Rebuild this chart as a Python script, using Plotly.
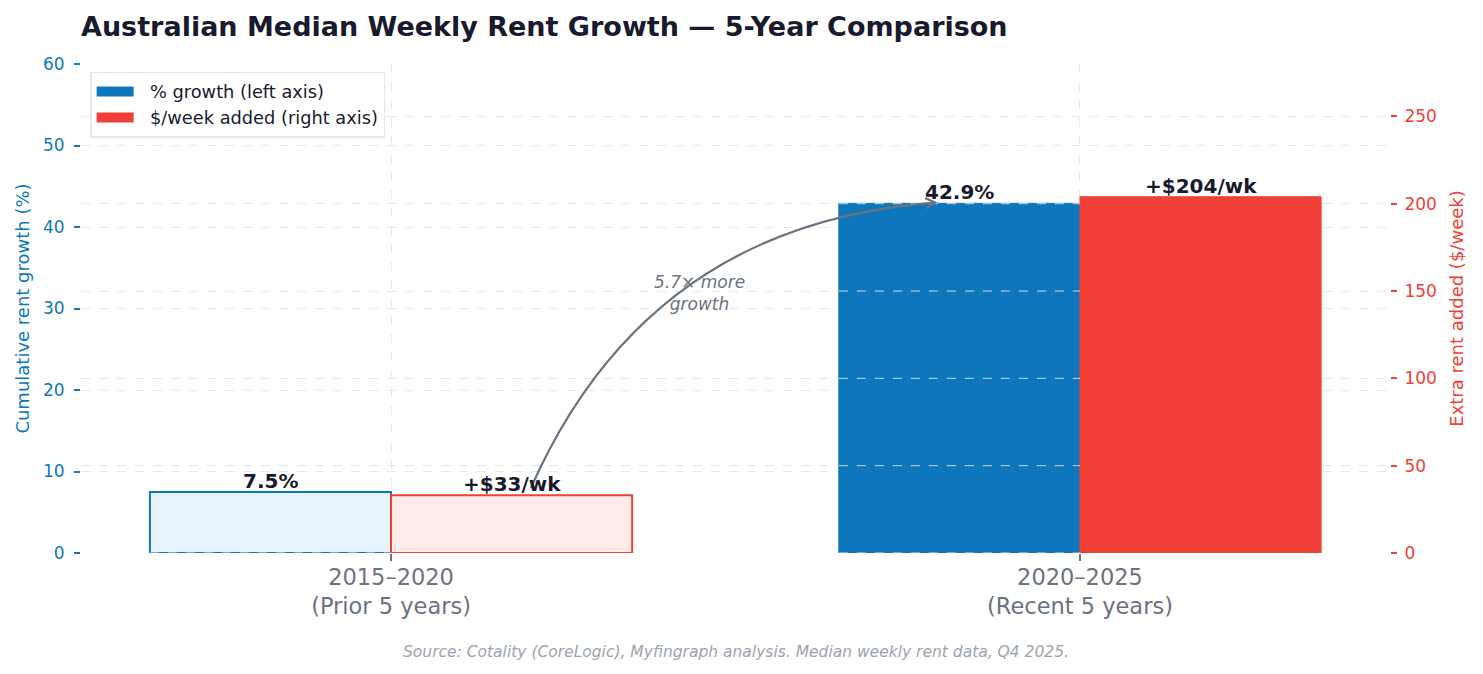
import math
import plotly.graph_objects as go

# ---------------- data ----------------
periods = ["2015–2020<br>(Prior 5 years)", "2020–2025<br>(Recent 5 years)"]
pct_growth = [7.5, 42.9]          # % (left axis)
dollar_added = [33, 204]          # $/week (right axis)
pct_labels = ["7.5%", "42.9%"]
dollar_labels = ["+$33/wk", "+$204/wk"]
left_ticks = [0, 10, 20, 30, 40, 50, 60]
right_ticks = [0, 50, 100, 150, 200, 250]
ratio_text = "5.7× more<br>growth"
series_names = ["% growth (left axis)", "$/week added (right axis)"]

# ---------------- style ----------------
FONT = "DejaVu Sans"
BLUE = "#0e77bb"
RED = "#f04037"
BLUE_LIGHT = "#e8f2fb"
RED_LIGHT = "#feebe9"
DARK = "#1a1a2e"
GREY = "#6b7280"
GRID = "#e5e7eb"

PAGE_OFF = 8                      # default body margin of the page
W_FIG, H_FIG = 1483 - 2 * PAGE_OFF, 674 - 2 * PAGE_OFF
M_L, M_R, M_T, M_B = 73, 85, 56, 113
X_RANGE = [-0.45, 1.45]
Y_RANGE = [0, 60]
Y2_RANGE = [0, 280]
BAR_W = 0.35

xs = list(range(len(periods)))

fig = go.Figure()

fig.add_trace(go.Bar(
    x=xs, y=pct_growth, width=BAR_W, offset=-BAR_W,
    marker=dict(color=[BLUE_LIGHT, BLUE], line=dict(color=[BLUE, BLUE], width=[2, 1])),
    showlegend=False, yaxis="y", hoverinfo="skip"))
fig.add_trace(go.Bar(
    x=xs, y=dollar_added, width=BAR_W, offset=0,
    marker=dict(color=[RED_LIGHT, RED], line=dict(color=[RED, RED], width=[2, 1])),
    showlegend=False, yaxis="y2", hoverinfo="skip"))

# legend-only entries (wide rectangular swatches)
NB = "\u00a0\u00a0"
fig.add_trace(go.Scatter(x=[None], y=[None], mode="lines", name=NB + series_names[0],
                         line=dict(color=BLUE, width=13), yaxis="y"))
fig.add_trace(go.Scatter(x=[None], y=[None], mode="lines", name=NB + series_names[1],
                         line=dict(color=RED, width=13), yaxis="y2"))

shapes = []
# right-axis gridlines drawn over the blue bars
scale_l2r = (Y2_RANGE[1] - Y2_RANGE[0]) / (Y_RANGE[1] - Y_RANGE[0])
for xi, v in zip(xs, pct_growth):
    v2 = v * scale_l2r
    for g in right_ticks:
        if g < v2:
            shapes.append(dict(type="line", xref="x", yref="y2",
                               x0=xi - BAR_W, x1=xi, y0=g, y1=g, layer="above",
                               line=dict(color="rgba(235,238,242,0.85)", width=1, dash="dash")))

# curved arrow (arc3, rad=-0.3) from first $ bar to second % bar
plot_w = W_FIG - M_L - M_R
plot_h = H_FIG - M_T - M_B
sx = plot_w / (X_RANGE[1] - X_RANGE[0])
sy = plot_h / (Y_RANGE[1] - Y_RANGE[0])

def to_px(x, y):
    return ((x - X_RANGE[0]) * sx, (y - Y_RANGE[0]) * sy)

def from_px(u, v):
    return (u / sx + X_RANGE[0], v / sy + Y_RANGE[0])

start = (xs[0] + BAR_W * 0.58, dollar_added[0] / scale_l2r + 0.9)
end = (xs[1] - BAR_W * 0.6, pct_growth[1] + 0.1)
su, sv = to_px(*start)
eu, ev = to_px(*end)
mu, mv = (su + eu) / 2, (sv + ev) / 2
du, dv = eu - su, ev - sv
rad = -0.3
cu, cv = mu + rad * dv, mv - rad * du
# arrowhead chevron
tu, tv = eu - cu, ev - cv
tl = math.hypot(tu, tv)
tu, tv = tu / tl, tv / tl
L = 11
ang = math.radians(28)
wings = []
for s in (1, -1):
    ca, sa = math.cos(s * ang), math.sin(s * ang)
    ru = tu * ca - tv * sa
    rv = tu * sa + tv * ca
    wings.append(from_px(eu - L * ru, ev - L * rv))
C = from_px(cu, cv)
path = (f"M {start[0]},{start[1]} Q {C[0]},{C[1]} {end[0]},{end[1]} "
        f"M {wings[0][0]},{wings[0][1]} L {end[0]},{end[1]} L {wings[1][0]},{wings[1][1]}")
shapes.append(dict(type="path", xref="x", yref="y", path=path, layer="above",
                   line=dict(color=GREY, width=2.2)))

# midpoint of curve for ratio text
qu = 0.25 * su + 0.5 * cu + 0.25 * eu
qv = 0.25 * sv + 0.5 * cv + 0.25 * ev
txt_pos = from_px(qu + 9, qv - 8)

annotations = []
for xi, v, lab in zip(xs, pct_growth, pct_labels):
    annotations.append(dict(x=xi - BAR_W / 2, y=v, xref="x", yref="y", text=lab,
                            showarrow=False, yanchor="bottom", yshift=-3,
                            font=dict(family=FONT, size=20, color=DARK, weight="bold")))
for xi, v, lab in zip(xs, dollar_added, dollar_labels):
    annotations.append(dict(x=xi + BAR_W / 2, y=v, xref="x", yref="y2", text=lab,
                            showarrow=False, yanchor="bottom", yshift=-3,
                            font=dict(family=FONT, size=20, color=DARK, weight="bold")))
annotations.append(dict(x=txt_pos[0], y=txt_pos[1], xref="x", yref="y", text=ratio_text,
                        showarrow=False, xanchor="center", yanchor="middle",
                        font=dict(family=FONT, size=17, color=GREY, style="italic")))
# source line ~99 px below the plot bottom
annotations.append(dict(x=0.5, y=-99 / plot_h, xref="paper", yref="paper",
                        text="Source: Cotality (CoreLogic), Myfingraph analysis. Median weekly rent data, Q4 2025.",
                        showarrow=False, xanchor="center", yanchor="middle",
                        font=dict(family=FONT, size=15.5, color="#9ca3af", style="italic")))

fig.update_layout(
    width=W_FIG, height=H_FIG,
    margin=dict(l=M_L, r=M_R, t=M_T, b=M_B),
    paper_bgcolor="white", plot_bgcolor="white",
    barmode="overlay",
    font=dict(family=FONT, color=DARK),
    title=dict(text="<b>Australian Median Weekly Rent Growth — 5-Year Comparison</b>",
               x=M_L / W_FIG, xanchor="left", y=1 - 19 / H_FIG, yanchor="middle",
               xref="container", yref="container",
               font=dict(family=FONT, size=27, color=DARK)),
    xaxis=dict(range=X_RANGE, tickmode="array", tickvals=xs, ticktext=periods,
               showgrid=True, gridcolor=GRID, griddash="dash", gridwidth=1,
               zeroline=False, showline=False,
               ticks="outside", ticklen=7, tickcolor=GREY, tickwidth=1.5,
               ticklabelstandoff=-3,
               tickfont=dict(family=FONT, size=22.5, color=GREY)),
    yaxis=dict(range=Y_RANGE, tickvals=left_ticks, showgrid=True, gridcolor=GRID,
               griddash="dash", gridwidth=1, zeroline=False, showline=False,
               ticks="outside", ticklen=6, tickcolor=BLUE, tickwidth=1.5,
               ticklabelstandoff=6,
               tickfont=dict(family=FONT, size=17, color=BLUE),
               title=dict(text="Cumulative rent growth (%)", standoff=8,
                          font=dict(family=FONT, size=18, color=BLUE))),
    yaxis2=dict(range=Y2_RANGE, tickvals=right_ticks, overlaying="y", side="right",
                showgrid=True, gridcolor=GRID, griddash="dash", gridwidth=1,
                zeroline=False, showline=False,
                ticks="outside", ticklen=6, tickcolor=RED, tickwidth=1.5,
                ticklabelstandoff=4,
                tickfont=dict(family=FONT, size=17, color=RED),
                title=dict(text="Extra rent added ($/week)", standoff=14,
                           font=dict(family=FONT, size=18, color=RED))),
    legend=dict(x=0.007, y=0.984, xanchor="left", yanchor="top",
                bgcolor="white", bordercolor=GRID, borderwidth=1.5,
                itemwidth=37,
                font=dict(family=FONT, size=17.8, color=DARK), tracegroupgap=0),
    shapes=shapes,
    annotations=annotations,
)

fig.write_html("out.html")
